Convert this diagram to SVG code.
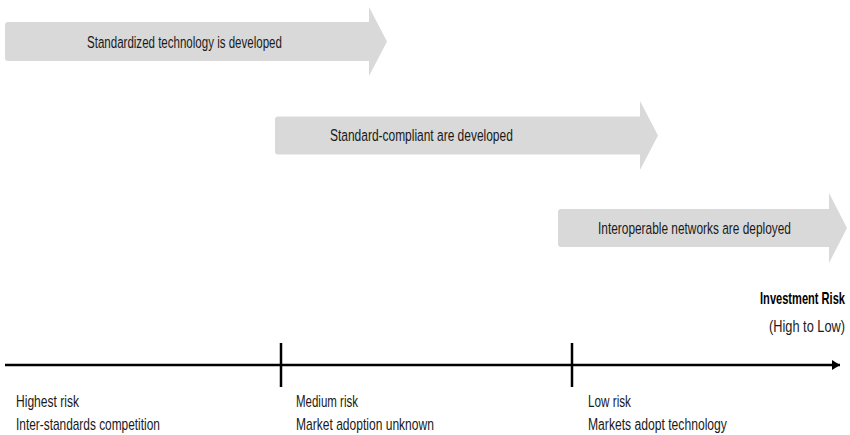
<svg xmlns="http://www.w3.org/2000/svg" width="850" height="435" viewBox="0 0 850 435">
<style>
.band{fill:#d9d9d9}
.t{font-family:"Liberation Sans",Arial,sans-serif;font-size:17px;fill:#1a1a1a}
.b{font-family:"Liberation Sans",Arial,sans-serif;font-size:16px;fill:#1a1a1a}
.h{font-family:"Liberation Sans",Arial,sans-serif;font-size:16px;fill:#000;font-weight:bold}
.ax{stroke:#000;stroke-width:2.5;fill:none}
</style>
<defs>
<marker id="ah" markerWidth="10" markerHeight="10" refX="8" refY="5" orient="auto" markerUnits="userSpaceOnUse">
<path d="M0,0 L8,5 L0,10 Z" fill="#000"/>
</marker>
</defs>
<g id="phase1">
<path class="band" d="M8,22 H369 V7 L387,41.5 L369,76 V61 H8 Q5,61 5,58 V25 Q5,22 8,22 Z"/>
<text class="t" transform="translate(87,48) scale(0.679,1)">Standardized technology is developed</text>
</g>
<g id="phase2">
<path class="band" d="M278,116.5 H640 V101 L658,135.5 L640,170 V154.5 H278 Q275,154.5 275,151.5 V119.5 Q275,116.5 278,116.5 Z"/>
<text class="t" transform="translate(330,141) scale(0.704,1)">Standard-compliant are developed</text>
</g>
<g id="phase3">
<path class="band" d="M561,209 H829 V193 L847,228 L829,263 V247 H561 Q558,247 558,244 V212 Q558,209 561,209 Z"/>
<text class="t" transform="translate(598,234) scale(0.70,1)">Interoperable networks are deployed</text>
</g>
<g id="axis-title">
<text class="h" text-anchor="end" transform="translate(845,304) scale(0.693,1)">Investment Risk</text>
<text class="b" text-anchor="end" transform="translate(845,332) scale(0.80,1)">(High to Low)</text>
</g>
<g id="connectors">
<line class="ax" x1="5" y1="365" x2="840" y2="365" marker-end="url(#ah)"/>
<line class="ax" x1="281" y1="343" x2="281" y2="387"/>
<line class="ax" x1="572" y1="343" x2="572" y2="387"/>
</g>
<g id="stage-high">
<text class="b" transform="translate(16,407) scale(0.754,1)">Highest risk</text>
<text class="b" transform="translate(16,430) scale(0.743,1)">Inter-standards competition</text>
</g>
<g id="stage-medium">
<text class="b" transform="translate(296,407) scale(0.719,1)">Medium risk</text>
<text class="b" transform="translate(296,430) scale(0.753,1)">Market adoption unknown</text>
</g>
<g id="stage-low">
<text class="b" transform="translate(588,407) scale(0.733,1)">Low risk</text>
<text class="b" transform="translate(588,430) scale(0.759,1)">Markets adopt technology</text>
</g>
</svg>
